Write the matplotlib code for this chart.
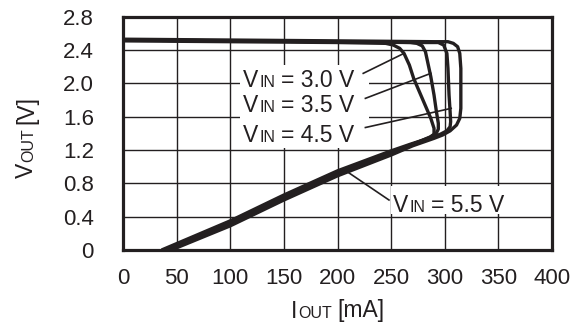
import matplotlib
matplotlib.use("Agg")
import matplotlib.pyplot as plt
from matplotlib.transforms import offset_copy
from matplotlib.patches import Rectangle

FONT = ["Liberation Sans", "DejaVu Sans"]
plt.rcParams["font.family"] = FONT
INK = "#231f20"

# ---------------- data ----------------
iout_30 = [0, 100, 200, 245, 252, 258, 262, 267, 271, 279, 287, 290, 290, 286, 280, 268, 250, 200, 150, 100, 36]
vout_30 = [2.51, 2.50, 2.49, 2.48, 2.46, 2.42, 2.36, 2.22, 2.06, 1.82, 1.58, 1.46, 1.39, 1.35, 1.32, 1.27, 1.19, 0.95, 0.66, 0.35, 0.0]

iout_35 = [0, 100, 200, 268, 274, 279, 282, 284, 287, 290, 292, 294, 294, 292, 287, 276, 250, 200, 150, 100, 39]
vout_35 = [2.52, 2.51, 2.50, 2.49, 2.48, 2.45, 2.38, 2.26, 2.08, 1.86, 1.68, 1.52, 1.45, 1.40, 1.36, 1.30, 1.17, 0.93, 0.64, 0.33, 0.0]

iout_45 = [0, 100, 200, 280, 294, 299, 302, 303, 304, 305, 305.5, 305, 302, 296, 285, 270, 250, 200, 150, 100, 42]
vout_45 = [2.52, 2.51, 2.50, 2.49, 2.49, 2.46, 2.36, 2.18, 1.86, 1.66, 1.54, 1.48, 1.43, 1.39, 1.34, 1.27, 1.16, 0.91, 0.62, 0.31, 0.0]

iout_55 = [0, 100, 200, 290, 303, 308, 312, 314, 315, 315, 314, 311, 305, 298, 290, 270, 250, 200, 150, 100, 45]
vout_55 = [2.53, 2.52, 2.51, 2.50, 2.50, 2.48, 2.44, 2.36, 2.18, 1.70, 1.58, 1.50, 1.43, 1.38, 1.34, 1.25, 1.14, 0.89, 0.60, 0.29, 0.0]

x_ticks = [0, 50, 100, 150, 200, 250, 300, 350, 400]
y_ticks = [0, 0.4, 0.8, 1.2, 1.6, 2.0, 2.4, 2.8]
y_tick_labels = ["0", "0.4", "0.8", "1.2", "1.6", "2.0", "2.4", "2.8"]
vin_labels = ["3.0", "3.5", "4.5", "5.5"]

# ---------------- figure ----------------
W, H = 572, 324
fig = plt.figure(figsize=(W / 100, H / 100), dpi=100)
ax = fig.add_axes([123 / W, 1 - 250 / H, (552 - 123) / W, (250 - 16.7) / H])
ax.set_xlim(0, 400)
ax.set_ylim(0, 2.8)
ax.set_xticks(x_ticks)
ax.set_xticklabels([str(t) for t in x_ticks])
ax.set_yticks(y_ticks)
ax.set_yticklabels(y_tick_labels)
ax.tick_params(axis="x", length=0, pad=13, labelsize=16, colors=INK)
ax.tick_params(axis="y", length=0, pad=21, labelsize=16, colors=INK)
ax.grid(True, color=INK, lw=1.0, zorder=0)
ax.set_axisbelow(True)
for sp in ax.spines.values():
    sp.set_linewidth(2.3)
    sp.set_color(INK)
    sp.set_zorder(10)

# white label backgrounds
ax.add_patch(Rectangle((109, 1.22), 120, 1.0, facecolor="white", edgecolor="none", zorder=1))
ax.add_patch(Rectangle((250, 0.43), 112, 0.34, facecolor="white", edgecolor="none", zorder=1))

for ii, vv in [(iout_30, vout_30), (iout_35, vout_35), (iout_45, vout_45), (iout_55, vout_55)]:
    ax.plot(ii, vv, color=INK, lw=2.4, solid_joinstyle="round", solid_capstyle="butt", zorder=3)

# leader lines
leaders = [((224, 2.12), (262, 2.36)), ((226, 1.82), (287, 2.12)),
           ((226, 1.47), (306, 1.70)), ((209, 0.94), (248, 0.60))]
for (x0, y0), (x1, y1) in leaders:
    ax.plot([x0, x1], [y0, y1], color=INK, lw=1.2, zorder=4)

renderer = fig.canvas.get_renderer()


def rich_text(x, y, pieces, transform, rotation=0, ha="left"):
    widths = []
    for s, size, gap in pieces:
        t = fig.text(0, 0, s, fontsize=size)
        widths.append(t.get_window_extent(renderer).width)
        t.remove()
    total = sum(widths) + sum(p[2] for p in pieces)
    off = -total / 2 if ha == "center" else 0.0
    for (s, size, gap), w in zip(pieces, widths):
        off += gap
        if rotation == 90:
            tr = offset_copy(transform, fig=fig, x=0, y=off, units="dots")
        else:
            tr = offset_copy(transform, fig=fig, x=off, y=0, units="dots")
        fig.text(x, y, s, transform=tr, fontsize=size, ha="left", va="baseline",
                 rotation=rotation, rotation_mode="anchor", color=INK, zorder=6)
        off += w


BIG, SMALL = 16.5, 11.5
label_pos = [(112, 1.956), (112, 1.656), (112, 1.296), (252, 0.456)]
for lab, (lx, ly) in zip(vin_labels, label_pos):
    rich_text(lx, ly, [("V", BIG, 0), ("IN", SMALL, 1), ("= " + lab + " V", BIG, 6)], ax.transData)

rich_text(337.5 / W, 6.5 / H, [("I", BIG, 0), ("OUT", SMALL, 1.5), ("[mA]", BIG, 5)], fig.transFigure, ha="center")
rich_text(33 / W, 1 - 137 / H, [("V", BIG, 0), ("OUT", SMALL, 1), ("[V]", BIG, 5)], fig.transFigure, rotation=90, ha="center")

fig.savefig("out.png", dpi=100)
